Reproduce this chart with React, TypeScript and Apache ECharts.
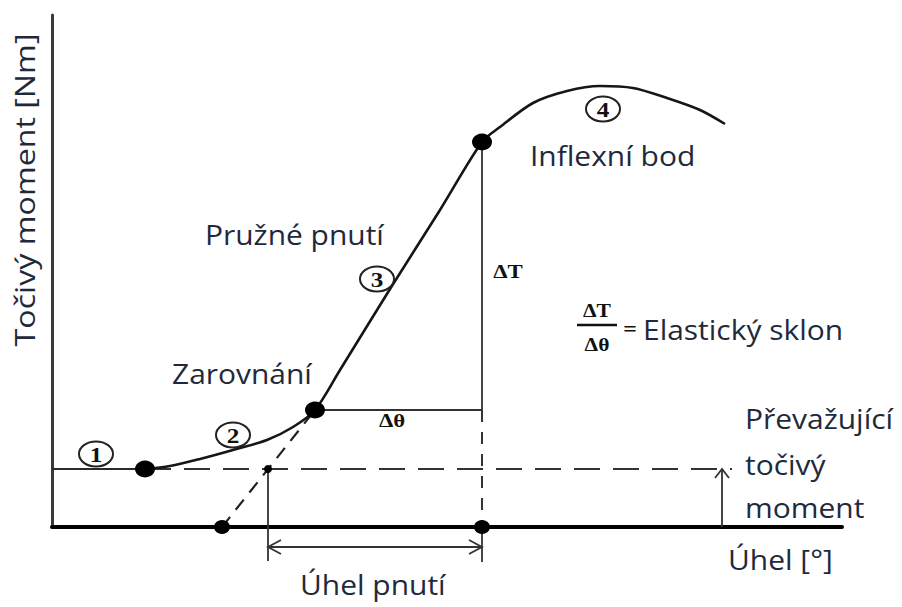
import React, { useEffect, useRef } from "react";
import * as echarts from "echarts";

// Torque–angle curve (schematic units: angle along x, torque along y)
const curveAngle = [9.3, 11.8, 14.8, 18.1, 21.5, 24.1, 26.3, 28.8, 33.8, 38.8, 43.0, 44.8, 48.1, 51.5, 54.8, 58.1, 61.5, 64.8, 67.3];
const curveTorque = [5.8, 6.1, 6.8, 7.7, 8.7, 10.0, 11.7, 15.7, 23.8, 31.7, 38.5, 40.0, 42.4, 43.6, 44.1, 43.9, 42.9, 41.7, 40.3];

// Characteristic points of the curve
const prevailingTorque = 5.8;
const alignStart = [9.3, 5.8];
const alignEnd = [26.3, 11.7];
const inflection = [43.0, 38.5];
const tangentFoot = 17.0;
const strainStart = 21.6;
const prevailingEnd = 68;
const prevailingArrowAngle = 67;
const strainArrowLevel = -2.0;
const extensionLow = -3.4;

const axisMaxAngle = 79;
const axisMaxTorque = 51.2;

// Stage markers and texts
const stageNumbers = ["1", "2", "3", "4"];
const yTitle = "Točivý moment [Nm]";
const xTitle = "Úhel [°]";
const strainTitle = "Úhel pnutí";
const prevailingLines = ["Převažující", "točivý", "moment"];

const SANS = "'Open Sans', 'Noto Sans', sans-serif";
const SERIF = "'Liberation Serif', 'DejaVu Serif', serif";
const TEXT = "#1e2a3c";
const INK = "#161616";

export default function App() {
  const ref = useRef<HTMLDivElement | null>(null);

  useEffect(() => {
    if (!ref.current) return;
    const chart = echarts.init(ref.current, undefined, { renderer: "svg" });

    const seg = (data: number[][], width: number, color: string, dash?: number[]) => ({
      type: "line",
      data,
      symbol: "none",
      clip: false,
      silent: true,
      z: 2,
      lineStyle: { color, width, type: dash ?? "solid" },
    });

    const dot = (data: number[][], size: number | number[]) => ({
      type: "scatter",
      data,
      symbol: "circle",
      symbolSize: size,
      silent: true,
      z: 5,
      itemStyle: { color: "#000", opacity: 1 },
    });

    const option: any = {
      animation: false,
      grid: { left: 52, top: 15, right: 60, bottom: 80 },
      xAxis: {
        type: "value",
        min: 0,
        max: axisMaxAngle,
        axisLine: { show: true, onZero: false, lineStyle: { color: "#000", width: 4 } },
        axisTick: { show: false },
        axisLabel: { show: false },
        splitLine: { show: false },
      },
      yAxis: {
        type: "value",
        min: 0,
        max: axisMaxTorque,
        axisLine: { show: true, lineStyle: { color: "#3a3a3a", width: 3 } },
        axisTick: { show: false },
        axisLabel: { show: false },
        splitLine: { show: false },
      },
      series: [
        {
          type: "line",
          data: curveAngle.map((a, i) => [a, curveTorque[i]]),
          symbol: "none",
          smooth: 0.3,
          clip: false,
          silent: true,
          z: 3,
          lineStyle: { color: INK, width: 2.6 },
        },
        // prevailing torque level: solid before the curve starts, dashed after
        seg([[0, prevailingTorque], alignStart], 1.8, "#2a2a2a"),
        seg([alignStart, [prevailingEnd, prevailingTorque]], 2, "#333", [26, 13]),
        // tangent extension of the elastic part
        seg([[tangentFoot, 0], alignEnd], 2.2, "#222", [13, 9]),
        // slope triangle
        seg([alignEnd, [inflection[0], alignEnd[1]], inflection], 1.8, "#333"),
        seg([[inflection[0], alignEnd[1]], [inflection[0], 0]], 2, "#333", [12, 10]),
        // strain angle extension lines and arrow shaft
        seg([[strainStart, prevailingTorque], [strainStart, extensionLow]], 1.8, "#333"),
        seg([[inflection[0], 0], [inflection[0], extensionLow - 0.1]], 1.8, "#333"),
        seg([[strainStart, strainArrowLevel], [inflection[0], strainArrowLevel]], 1.8, "#333"),
        // prevailing torque arrow shaft
        seg([[prevailingArrowAngle, 0], [prevailingArrowAngle, prevailingTorque]], 1.8, "#333"),
        dot([alignStart, alignEnd, inflection], [20, 17]),
        dot([[tangentFoot, 0], [inflection[0], 0]], [16, 14]),
        dot([[strainStart, prevailingTorque]], 8),
      ],
    };
    chart.setOption(option);

    const px = (p: number[]) => chart.convertToPixel({ gridIndex: 0 }, p) as number[];
    const chevron = (tip: number[], dx: number, dy: number, nx: number, ny: number) => ({
      type: "polyline",
      silent: true,
      z: 10,
      shape: {
        points: [
          [tip[0] + dx + nx, tip[1] + dy + ny],
          tip,
          [tip[0] + dx - nx, tip[1] + dy - ny],
        ],
      },
      style: { stroke: "#333", lineWidth: 1.8, fill: "none" },
    });

    const leftTip = px([strainStart, strainArrowLevel]);
    const rightTip = px([inflection[0], strainArrowLevel]);
    const upTip = px([prevailingArrowAngle, prevailingTorque]);

    const sans = (text: string, x: number, y: number, size = 28, align = "left") => ({
      type: "text",
      x,
      y,
      scaleX: 1.07,
      silent: true,
      z: 10,
      style: {
        text,
        fill: TEXT,
        font: `${size}px ${SANS}`,
        align,
        verticalAlign: "middle",
        textAlign: align,
        textVerticalAlign: "middle",
      },
    });
    const serif = (text: string, x: number, y: number, size = 19) => ({
      type: "text",
      x,
      y,
      scaleX: 1.2,
      silent: true,
      z: 10,
      style: {
        text,
        fill: "#111",
        font: `bold ${size}px ${SERIF}`,
        align: "center",
        verticalAlign: "middle",
        textAlign: "center",
        textVerticalAlign: "middle",
      },
    });

    const stagePos = [
      [96, 454],
      [233, 435],
      [377, 279],
      [603, 109],
    ];
    const stages: any[] = [];
    stageNumbers.forEach((s, i) => {
      const [cx, cy] = stagePos[i];
      stages.push({
        type: "ellipse",
        silent: true,
        z: 10,
        shape: { cx, cy, rx: 17, ry: 12.5 },
        style: { fill: "#fff", stroke: "#222", lineWidth: 2 },
      });
      stages.push(serif(s, cx, cy + 1, 21));
    });

    const graphic: any[] = [
      chevron(leftTip, 13, 0, 0, 7),
      chevron(rightTip, -13, 0, 0, 7),
      chevron(upTip, 0, 9, 7, 0),
      ...stages,
      sans("Pružné pnutí", 205, 234),
      sans("Zarovnání", 172, 373),
      sans("Inflexní bod", 530, 155),
      sans("Elastický sklon", 643, 329),
      sans(prevailingLines[0], 745, 418),
      sans(prevailingLines[1], 745, 464),
      sans(prevailingLines[2], 745, 507),
      sans(xTitle, 728, 559),
      sans(strainTitle, 300, 584),
      {
        type: "text",
        x: 24,
        y: 190,
        rotation: Math.PI / 2,
        scaleX: 1.15,
        silent: true,
        z: 10,
        style: {
          text: yTitle,
          fill: TEXT,
          font: `28px ${SANS}`,
          align: "center",
          verticalAlign: "middle",
          textAlign: "center",
          textVerticalAlign: "middle",
        },
      },
      serif("ΔT", 508, 272),
      serif("Δθ", 392, 421),
      serif("ΔT", 597, 311, 18),
      serif("Δθ", 597, 345, 18),
      {
        type: "line",
        silent: true,
        z: 10,
        shape: { x1: 577, y1: 325, x2: 617, y2: 325 },
        style: { stroke: "#111", lineWidth: 2.5 },
      },
      serif("=", 630, 329, 20),
    ];
    chart.setOption({ graphic });

    return () => chart.dispose();
  }, []);

  return (
    <div
      ref={ref}
      style={{ position: "fixed", left: 0, top: 0, width: 902, height: 607, background: "#fff" }}
    />
  );
}
